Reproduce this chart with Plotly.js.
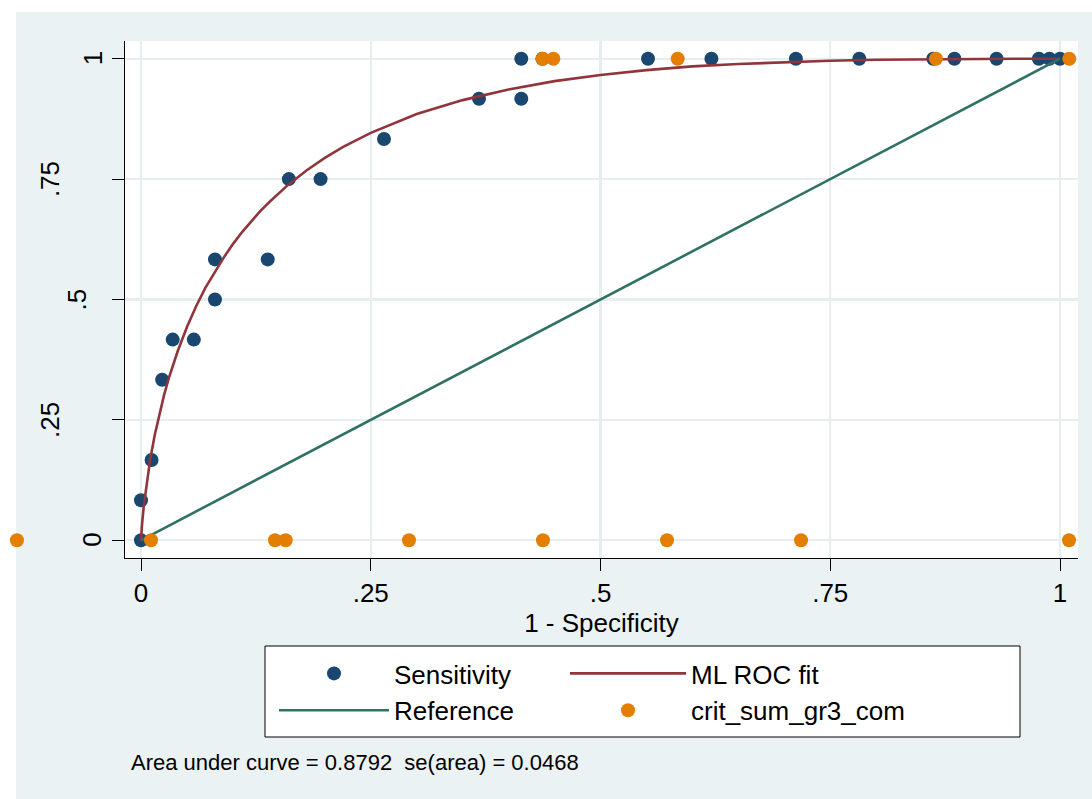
<!DOCTYPE html>
<html>
<head>
<meta charset="utf-8">
<script src="https://cdn.plot.ly/plotly-3.0.1.min.js"></script>
<style>html,body{margin:0;padding:0;background:#fff;}</style>
</head>
<body>
<div id="chart" style="width:1092px;height:799px;"></div>
<script>
// ---------- data ----------
const sensX = [0, 0, 0.0115, 0.023, 0.0345, 0.0575, 0.0805, 0.0805, 0.1379, 0.1609, 0.1954, 0.2644, 0.3678, 0.4138, 0.4138, 0.4368, 0.5517, 0.6207, 0.7126, 0.7816, 0.8621, 0.8851, 0.931, 0.977, 0.9885, 1];
const sensY = [0, 0.0833, 0.1667, 0.3333, 0.4167, 0.4167, 0.5, 0.5833, 0.5833, 0.75, 0.75, 0.8333, 0.9167, 0.9167, 1, 1, 1, 1, 1, 1, 1, 1, 1, 1, 1, 1];

const rocX = [0, 0.0003, 0.001, 0.003, 0.006, 0.01, 0.015, 0.02, 0.025, 0.03, 0.04, 0.05, 0.06, 0.07, 0.08, 0.09, 0.1, 0.11, 0.13, 0.14, 0.16, 0.18, 0.2, 0.22, 0.25, 0.3, 0.35, 0.4, 0.45, 0.5, 0.55, 0.6, 0.65, 0.7, 0.75, 0.8, 0.85, 0.9, 0.95, 1];
const rocY = [0, 0.011, 0.030, 0.071, 0.118, 0.168, 0.219, 0.263, 0.301, 0.335, 0.393, 0.443, 0.486, 0.524, 0.557, 0.587, 0.615, 0.640, 0.684, 0.703, 0.738, 0.768, 0.794, 0.817, 0.846, 0.885, 0.914, 0.936, 0.9534, 0.966, 0.9762, 0.984, 0.989, 0.993, 0.9958, 0.9977, 0.9989, 0.9996, 0.9999, 1];

const refX = [0, 1];
const refY = [0, 1];

const critX = [-0.135, 0.0109, 0.1458, 0.1574, 0.2916, 0.4374, 0.5724, 0.7182, 1.0098, 0.437, 0.4487, 0.584, 0.865, 1.0101];
const critY = [0, 0, 0, 0, 0, 0, 0, 0, 0, 1, 1, 1, 1, 1];

const tickVals = [0, 0.25, 0.5, 0.75, 1];
const tickText = ['0', '.25', '.5', '.75', '1'];

const seriesNames = ['Sensitivity', 'ML ROC fit', 'Reference', 'crit_sum_gr3_com'];
const xTitle = '1 - Specificity';
const noteText = 'Area under curve = 0.8792\u00a0 se(area) = 0.0468';

// ---------- styling / geometry ----------
const W = 1092, H = 799;
const pxX = p => p / W;
const pxY = p => (H - p) / H;
const FONT = 'Liberation Sans, Arial, Helvetica, sans-serif';
const C_NAVY = '#1a476f', C_MAROON = '#90353b', C_GREEN = '#2f7263', C_ORANGE = '#e37e00';
const BG = '#eaf2f3', GRID = '#e6eef0';

// pixel mapping of data axes
const X0PX = 141, X1PX = 1060;   // x=0, x=1
const Y0PX = 540.3, Y1PX = 58.7; // y=0, y=1
const PL = 125, PR = 1078, PT = 41, PB = 558;
const xAt = p => (p - X0PX) / (X1PX - X0PX);
const yAt = p => (Y0PX - p) / (Y0PX - Y1PX);

const inRange = (x) => x >= xAt(PL);
const mainIdx = critX.map((x, i) => i).filter(i => inRange(critX[i]));
const outIdx = critX.map((x, i) => i).filter(i => !inRange(critX[i]));

const traces = [
  {x: sensX, y: sensY, type: 'scatter', mode: 'markers', name: seriesNames[0], legend: 'legend',
   marker: {color: C_NAVY, size: 14}, cliponaxis: false},
  {x: rocX, y: rocY, type: 'scatter', mode: 'lines', name: seriesNames[1], legend: 'legend2',
   line: {color: C_MAROON, width: 2.6}, cliponaxis: false},
  {x: refX, y: refY, type: 'scatter', mode: 'lines', name: seriesNames[2], legend: 'legend',
   line: {color: C_GREEN, width: 2.6}, cliponaxis: false},
  {x: mainIdx.map(i => critX[i]), y: mainIdx.map(i => critY[i]), type: 'scatter', mode: 'markers',
   name: seriesNames[3], legend: 'legend2', legendgroup: 'crit', marker: {color: C_ORANGE, size: 14}, cliponaxis: false},
  {x: outIdx.map(i => critX[i]), y: outIdx.map(i => critY[i]), type: 'scatter', mode: 'markers',
   name: seriesNames[3], legend: 'legend2', legendgroup: 'crit', showlegend: false, xaxis: 'x2', yaxis: 'y2',
   marker: {color: C_ORANGE, size: 14}, cliponaxis: false}
];

const yDomain = [pxY(PB), pxY(PT)];
const yRange = [yAt(PB), yAt(PT)];

const annotations = tickVals.map((v, i) => ({
  text: tickText[i], xref: 'paper', yref: 'y', x: pxX([92.5, 50, 77, 50, 92.5][i]), y: v,
  xanchor: 'center', yanchor: 'middle', textangle: -90, showarrow: false,
  font: {family: FONT, size: 26, color: '#000'}
}));
annotations.push({
  text: noteText, xref: 'paper', yref: 'paper', x: pxX(129), y: pxY(762),
  xanchor: 'left', yanchor: 'middle', showarrow: false,
  font: {family: FONT, size: 22, color: '#000'}
});

const legendBase = {
  xanchor: 'left', y: pxY(650), yanchor: 'top', orientation: 'v', traceorder: 'normal',
  bgcolor: 'rgba(0,0,0,0)', borderwidth: 0,
  font: {family: FONT, size: 26, color: '#000'}
};

const layout = {
  width: W, height: H,
  margin: {l: 0, r: 0, t: 0, b: 0, pad: 0},
  paper_bgcolor: BG,
  plot_bgcolor: 'rgba(0,0,0,0)',
  font: {family: FONT, size: 26, color: '#000'},
  showlegend: true,
  xaxis: {
    domain: [pxX(PL), pxX(PR)], range: [xAt(PL), xAt(PR)], anchor: 'y',
    tickmode: 'array', tickvals: tickVals, ticktext: tickText,
    ticks: 'outside', ticklen: 12, tickwidth: 1, tickcolor: '#000',
    showline: true, linecolor: '#000', linewidth: 1.2,
    showgrid: true, gridcolor: GRID, gridwidth: 2.4,
    zeroline: true, zerolinecolor: GRID, zerolinewidth: 2.4,
    tickfont: {family: FONT, size: 26, color: '#000'},
    title: {text: xTitle, font: {family: FONT, size: 26, color: '#000'}, standoff: 0},
    automargin: false, fixedrange: true
  },
  yaxis: {
    domain: yDomain, range: yRange, anchor: 'x',
    tickmode: 'array', tickvals: tickVals, ticktext: tickText, showticklabels: false,
    ticks: 'outside', ticklen: 12, tickwidth: 1, tickcolor: '#000',
    showline: true, linecolor: '#000', linewidth: 1.2,
    showgrid: true, gridcolor: GRID, gridwidth: 2.4,
    zeroline: true, zerolinecolor: GRID, zerolinewidth: 2.4,
    automargin: false, fixedrange: true
  },
  xaxis2: {domain: [0, pxX(109)], range: [xAt(0), xAt(109)], anchor: 'y2', visible: false, fixedrange: true},
  yaxis2: {domain: yDomain, range: yRange, anchor: 'x2', visible: false, fixedrange: true},
  legend: Object.assign({}, legendBase, {x: pxX(274), itemwidth: 110}),
  legend2: Object.assign({}, legendBase, {x: pxX(565), itemwidth: 116}),
  shapes: [
    {type: 'rect', xref: 'paper', yref: 'paper', x0: 0, x1: 1, y0: pxY(12), y1: 1, fillcolor: '#fff', line: {width: 0}, layer: 'below'},
    {type: 'rect', xref: 'paper', yref: 'paper', x0: 0, x1: pxX(16), y0: 0, y1: 1, fillcolor: '#fff', line: {width: 0}, layer: 'below'},
    {type: 'rect', xref: 'paper', yref: 'paper', x0: pxX(PL), x1: pxX(PR), y0: pxY(PB), y1: pxY(PT), fillcolor: '#fff', line: {width: 0}, layer: 'below'},
    {type: 'rect', xref: 'paper', yref: 'paper', x0: pxX(265), x1: pxX(1020), y0: pxY(737), y1: pxY(646), fillcolor: '#fff', line: {color: '#000', width: 1}, layer: 'below'}
  ],
  annotations: annotations
};

Plotly.newPlot('chart', traces, layout, {displayModeBar: false, staticPlot: true});
</script>
</body>
</html>
